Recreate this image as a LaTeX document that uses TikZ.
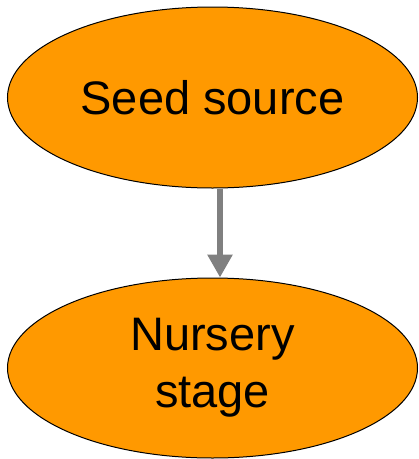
\documentclass[tikz,border=0pt]{standalone}
\usepackage{fontspec}
\setmainfont{Liberation Sans}
\usetikzlibrary{shapes.geometric,arrows.meta}
\definecolor{stageorange}{RGB}{255,153,0}
\definecolor{linkgray}{RGB}{128,128,128}

\begin{document}
\begin{tikzpicture}[x=1pt,y=-1pt,
  stage/.style={ellipse, draw=black, line width=1pt, fill=stageorange,
    minimum width=410pt, inner sep=0pt, align=center,
    font=\fontsize{47}{57}\selectfont},
  link/.style={draw=linkgray, line width=6pt,
    -{Triangle[width=24pt,length=23pt]}}]
  % Keep the page at the size of the reference
  \useasboundingbox (0,0) rectangle (419,459);

  \node[stage, minimum height=181pt] (seed) at (212.5,97.5) {Seed source};
  \node[stage, minimum height=180pt] (nursery) at (212.5,368) {Nursery\\stage};

  \draw[link] ([xshift=7.5pt]seed.south) -- ([xshift=7.5pt]nursery.north);
\end{tikzpicture}
\end{document}
